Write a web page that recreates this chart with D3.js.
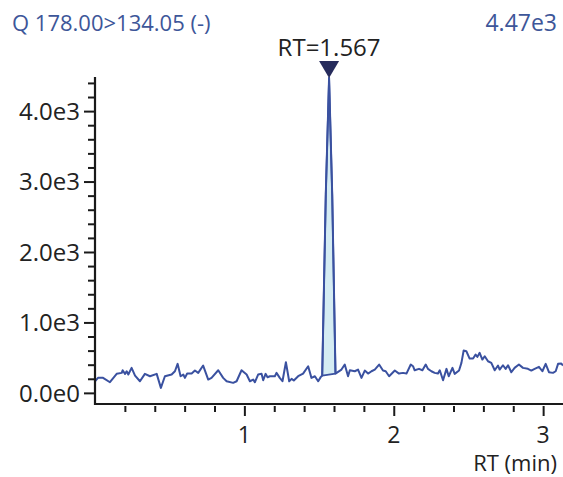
<!DOCTYPE html>
<html><head><meta charset="utf-8">
<script src="https://cdn.jsdelivr.net/npm/d3@7/dist/d3.min.js"></script>
<style>
html,body{margin:0;padding:0;background:#fff;}
svg{display:block;font-family:"Open Sans","Noto Sans",sans-serif;}
</style></head>
<body><svg id="c" width="563" height="477"></svg>
<script>
const titleText = "Q 178.00>134.05 (-)";
const maxLabel = "4.47e3";
const peakLabel = "RT=1.567";
const peakRT = 1.567;
const peakMax = 4470;
const xTicks = [1, 2, 3];
const yTicks = [0, 1000, 2000, 3000, 4000];
const yTickLabels = ["0.0e0", "1.0e3", "2.0e3", "3.0e3", "4.0e3"];
const xLabel = "RT (min)";

const times = [0.000,0.020,0.054,0.100,0.145,0.179,0.185,0.201,0.212,0.223,0.245,0.268,0.301,0.334,0.368,0.413,0.441,0.468,0.513,0.535,0.553,0.573,0.591,0.602,0.617,0.647,0.669,0.691,0.724,0.758,0.780,0.825,0.858,0.881,0.925,0.948,0.981,1.015,1.037,1.059,1.070,1.092,1.115,1.126,1.142,1.155,1.171,1.204,1.215,1.237,1.255,1.278,1.300,1.316,1.331,1.360,1.393,1.427,1.449,1.472,1.494,1.512,
1.521,1.545,1.567,1.588,1.610,
1.650,1.672,1.694,1.706,1.739,1.761,1.784,1.806,1.828,1.851,1.873,1.902,1.928,1.946,1.969,2.007,2.035,2.062,2.085,2.114,2.129,2.140,2.169,2.192,2.214,2.229,2.252,2.274,2.296,2.308,2.330,2.353,2.368,2.393,2.408,2.437,2.453,2.468,2.486,2.508,2.531,2.548,2.560,2.575,2.593,2.609,2.631,2.653,2.676,2.698,2.709,2.731,2.749,2.765,2.787,2.809,2.838,2.865,2.898,2.921,2.943,2.972,2.995,3.017,3.039,3.066,3.084,3.100,3.122,3.133];
const intensities = [165,213,213,151,270,284,321,270,307,260,355,246,165,270,236,270,71,236,260,307,412,236,260,213,274,274,317,284,388,189,213,321,213,165,142,165,321,260,165,189,151,260,270,179,270,222,236,236,284,213,165,435,165,199,175,236,274,378,213,236,165,227,
246,2818,4470,2818,274,
331,402,236,321,307,331,213,317,274,307,331,402,317,307,236,317,274,284,274,402,378,321,341,321,402,341,307,284,274,321,179,341,236,355,270,317,426,601,591,487,487,544,511,568,473,520,449,426,321,388,331,392,341,392,293,355,402,355,341,317,341,369,307,412,293,284,307,412,416,388];
const peakStartIdx = 62, peakEndIdx = 66;

const svg = d3.select("#c");
const x = d3.scaleLinear().domain([0, 3.133]).range([95, 563]);
const y = d3.scaleLinear().domain([-158, 4470]).range([404, 78]);
const blue = "#3a51a0", txtBlue = "#3d5699", axisC = "#1a1a1a";

// peak fill
const pk = d3.range(peakStartIdx, peakEndIdx + 1).map(i => [times[i], intensities[i]]);
svg.append("path")
  .attr("d", d3.line().x(d => x(d[0])).y(d => y(d[1]))(pk) + "Z")
  .attr("fill", "#d5ecf3").attr("stroke", blue).attr("stroke-width", 1.8).attr("stroke-linejoin", "round");

// trace
const pts = times.map((t, i) => [t, intensities[i]]);
svg.append("path")
  .attr("d", d3.line().x(d => x(d[0])).y(d => y(d[1]))(pts))
  .attr("fill", "none").attr("stroke", blue).attr("stroke-width", 2).attr("stroke-linejoin", "round");

// axes
const yAxis = d3.axisLeft(y).tickValues(d3.range(0, 4401, 200)).tickSize(7).tickFormat("");
const gy = svg.append("g").attr("transform", "translate(95,0)").call(yAxis);
gy.select(".domain").remove();
gy.selectAll(".tick line").attr("stroke", axisC).attr("stroke-width", 2)
  .attr("x2", d => (d % 1000 === 0 ? -11 : -7));
svg.append("line").attr("x1", 95).attr("x2", 95).attr("y1", 77).attr("y2", 405)
  .attr("stroke", axisC).attr("stroke-width", 2.2);
yTicks.forEach((v, i) => {
  svg.append("text").attr("x", 80).attr("y", y(v)).attr("dy", "0.36em")
    .attr("text-anchor", "end").attr("font-size", 24).attr("fill", "#222").text(yTickLabels[i]);
});

const xAxis = d3.axisBottom(x).tickValues(d3.range(0.2, 3.11, 0.2)).tickSize(6).tickFormat("");
const gx = svg.append("g").attr("transform", "translate(0,406)").call(xAxis);
gx.select(".domain").remove();
gx.selectAll(".tick line").attr("stroke", axisC).attr("stroke-width", 2)
  .attr("y2", d => (Math.abs(d - Math.round(d)) < 1e-6 ? 10 : 6));
svg.append("line").attr("x1", 94).attr("x2", 563).attr("y1", 404).attr("y2", 404)
  .attr("stroke", axisC).attr("stroke-width", 2.2);
xTicks.forEach(v => {
  svg.append("text").attr("x", x(v)).attr("y", 443).attr("text-anchor", "middle")
    .attr("font-size", 23).attr("fill", "#222").text(v);
});
svg.append("text").attr("x", 557).attr("y", 471).attr("text-anchor", "end")
  .attr("font-size", 22).attr("fill", "#222").text(xLabel);

// titles
svg.append("text").attr("x", 12).attr("y", 31).attr("font-size", 22).attr("fill", txtBlue).text(titleText);
svg.append("text").attr("x", 557).attr("y", 31).attr("text-anchor", "end").attr("font-size", 23).attr("fill", txtBlue).text(maxLabel);

// peak marker
const px = x(peakRT), py = y(peakMax);
svg.append("path").attr("d", `M${px-10},${py-17}L${px+10},${py-17}L${px},${py}Z`).attr("fill", "#262b5c");
svg.append("text").attr("x", px).attr("y", py - 22).attr("text-anchor", "middle")
  .attr("font-size", 24).attr("fill", "#222").text(peakLabel);
</script></body></html>
